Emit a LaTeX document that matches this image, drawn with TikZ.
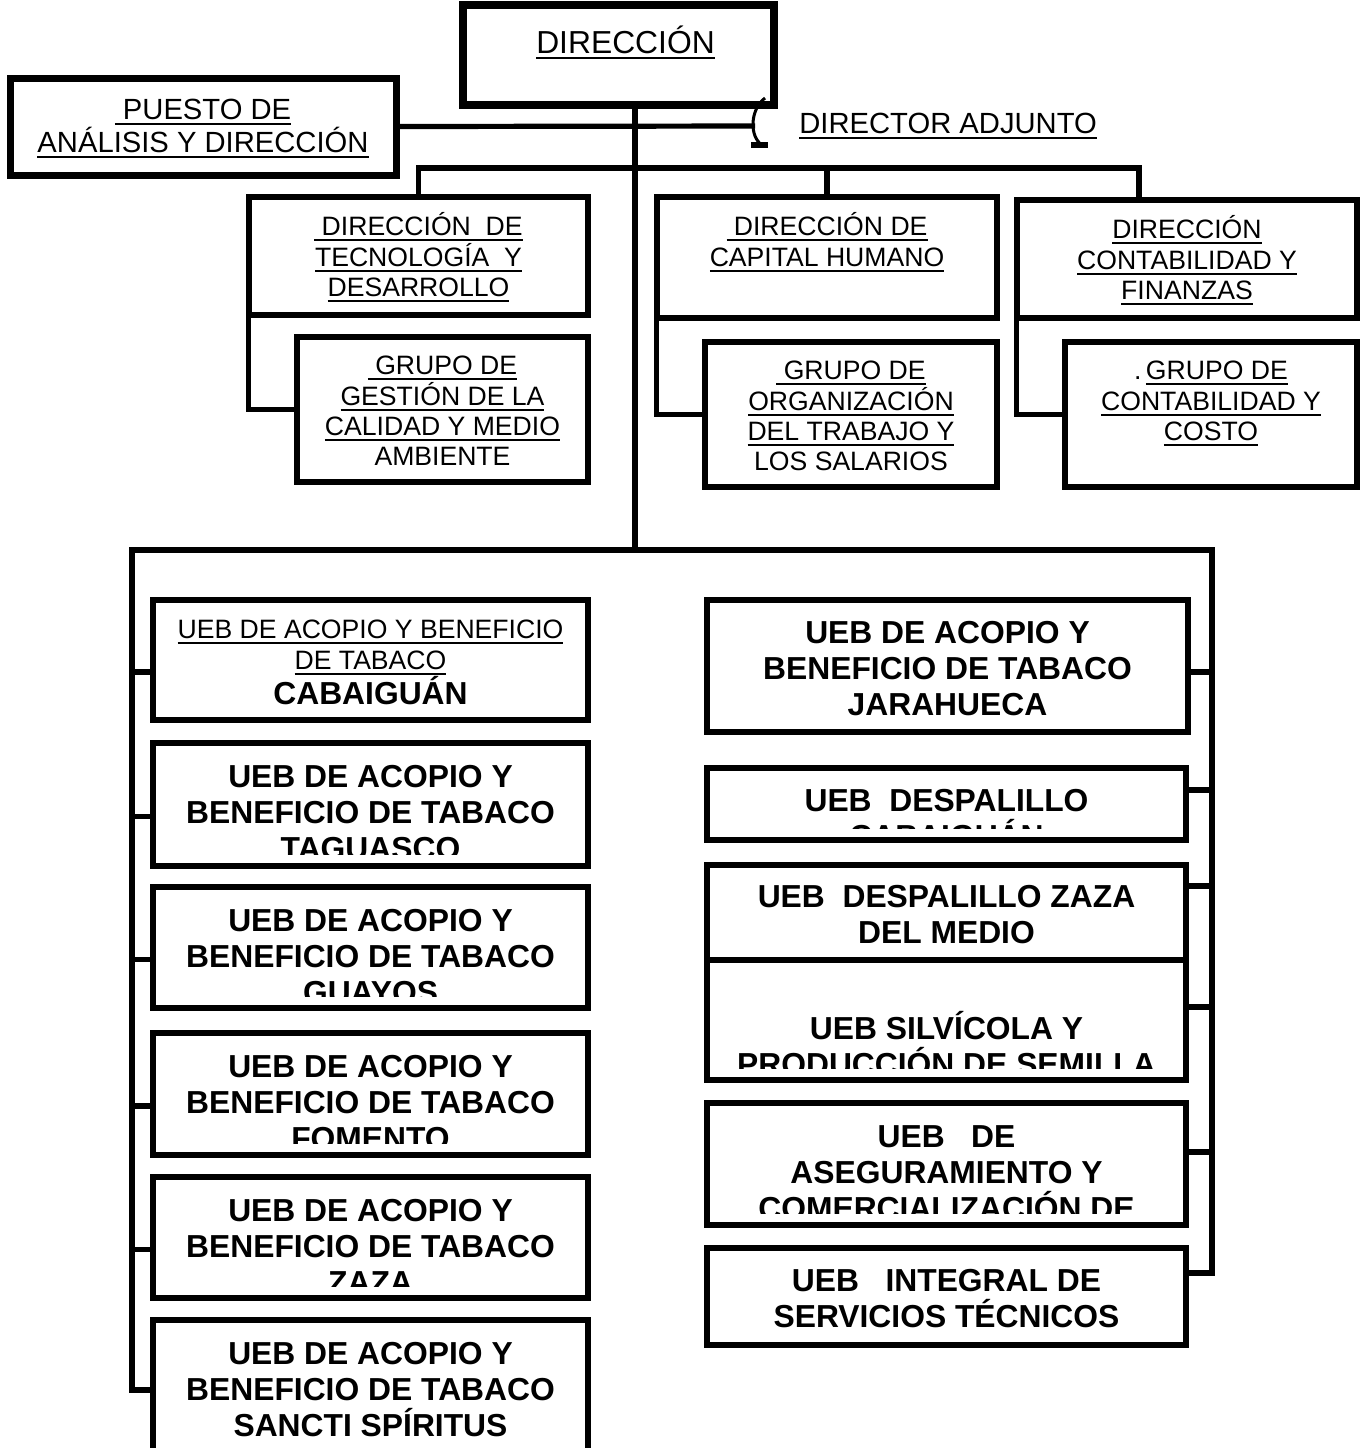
\documentclass[tikz,border=0pt]{standalone}
\usepackage{fontspec}
\setmainfont{Liberation Sans}
\usepackage{tikz}
\usetikzlibrary{positioning, fit}
\definecolor{ink}{HTML}{000000}
\newcommand{\headfont}{\fontsize{15.9}{18}\selectfont}
\newcommand{\stafffont}{\fontsize{14.6}{16.5}\selectfont}
\newcommand{\deptfont}{\fontsize{13.3}{15.2}\selectfont}
\newcommand{\unitfont}{\fontsize{15.9}{18}\selectfont\bfseries}
\newcommand{\topstrut}{\rule{0pt}{0.95em}}
\newcommand{\undl}[1]{\setbox0\hbox{#1}\rlap{\rule[-2.8pt]{\wd0}{0.9pt}}\box0}
% box with its text clipped inside: name, kind, left, top, right, bottom, text offset, text
\newcommand{\orgbox}[8]{%
    \begin{scope}
        \clip (#3,#4) rectangle (#5,#6-12);
        \node[#2label, anchor=north] (#1text) at ({(#3+#5)/2},#4+#7) {\topstrut #8};
    \end{scope}
    \node[#2box, fit={(#3,#4) (#5,#6)}] (#1) {};
}
\tikzset{
    headbox/.style={rectangle, draw=ink, line width=4pt, inner sep=0pt},
    headlabel/.style={font=\headfont, text=ink, align=center, inner sep=0pt},
    staffbox/.style={rectangle, draw=ink, line width=3.5pt, inner sep=0pt},
    stafflabel/.style={font=\stafffont, text=ink, align=center, inner sep=0pt},
    deptbox/.style={rectangle, draw=ink, line width=2.6pt, inner sep=0pt},
    deptlabel/.style={font=\deptfont, text=ink, align=center, inner sep=0pt},
    groupbox/.style={rectangle, draw=ink, line width=3pt, inner sep=0pt},
    grouplabel/.style={font=\deptfont, text=ink, align=center, inner sep=0pt},
    unitbox/.style={rectangle, draw=ink, line width=3pt, inner sep=0pt},
    unitlabel/.style={font=\unitfont, text=ink, align=center, inner sep=0pt},
    mixedbox/.style={unitbox},
    mixedlabel/.style={font=\deptfont, text=ink, align=center, inner sep=0pt},
    linkline/.style={draw=ink, line width=2.6pt},
    bracketline/.style={draw=ink, line width=1.5pt},
}
\begin{document}
\begin{tikzpicture}[x=0.5pt, y=-0.5pt]
    \useasboundingbox (0,0) rectangle (1363,1448);

    % Top: direction and staff
    \orgbox{direccion}{head}{463}{5}{774}{105}{18}{\hspace*{7pt}\undl{DIRECCIÓN}}
    \orgbox{puesto}{staff}{10}{78}{396}{175}{13}{\undl{\ PUESTO DE}\\ \undl{ANÁLISIS Y DIRECCIÓN}}
    \coordinate (adjmark) at (755,126);
    \node[stafflabel, anchor=west, right=22pt of adjmark] (adjunto) {\undl{DIRECTOR ADJUNTO}};

    % Row 1: directions
    \orgbox{tecnologia}{dept}{249}{197}{588}{315}{13}{\undl{\ DIRECCIÓN\ \ DE}\\ \undl{TECNOLOGÍA\ \ Y}\\ \undl{DESARROLLO}}
    \orgbox{capital}{dept}{657}{197}{997}{318}{13}{\undl{\ DIRECCIÓN DE}\\ \undl{CAPITAL HUMANO}}
    \orgbox{contabilidad}{dept}{1017}{200}{1357}{318}{13}{\undl{DIRECCIÓN}\\ \undl{CONTABILIDAD Y}\\ \undl{FINANZAS}}

    % Row 2: groups
    \orgbox{calidad}{group}{297}{337}{588}{482}{12}{\undl{\ GRUPO DE}\\ \undl{GESTIÓN DE LA}\\ \undl{CALIDAD Y MEDIO}\\ AMBIENTE}
    \orgbox{salarios}{group}{705}{342}{997}{487}{12}{\undl{\ GRUPO DE}\\ \undl{ORGANIZACIÓN}\\ \undl{DEL TRABAJO Y}\\ LOS SALARIOS}
    \orgbox{costo}{group}{1065}{342}{1357}{487}{12}{.\,\undl{GRUPO DE}\\ \undl{CONTABILIDAD Y}\\ \undl{COSTO}}

    % Left column: UEB de acopio
    \orgbox{cabaiguan}{mixed}{153}{600}{588}{720}{13}{\undl{UEB DE ACOPIO Y BENEFICIO}\\ \undl{DE TABACO}\\ {\unitfont CABAIGUÁN}}
    \orgbox{taguasco}{unit}{153}{743}{588}{866}{14}{UEB DE ACOPIO Y\\ BENEFICIO DE TABACO\\ TAGUASCO}
    \orgbox{guayos}{unit}{153}{887}{588}{1008}{14}{UEB DE ACOPIO Y\\ BENEFICIO DE TABACO\\ GUAYOS}
    \orgbox{fomento}{unit}{153}{1033}{588}{1155}{14}{UEB DE ACOPIO Y\\ BENEFICIO DE TABACO\\ FOMENTO}
    \orgbox{zaza}{unit}{153}{1177}{588}{1298}{14}{UEB DE ACOPIO Y\\ BENEFICIO DE TABACO\\ ZAZA}
    \orgbox{sancti}{unit}{153}{1320}{588}{1460}{14}{UEB DE ACOPIO Y\\ BENEFICIO DE TABACO\\ SANCTI SPÍRITUS}

    % Right column: other UEB
    \orgbox{jarahueca}{unit}{707}{600}{1188}{732}{13}{UEB DE ACOPIO Y\\ BENEFICIO DE TABACO\\ JARAHUECA}
    \orgbox{despcab}{unit}{707}{768}{1186}{840}{13}{UEB\ \ DESPALILLO\\ CABAIGUÁN}
    \orgbox{despzaza}{unit}{707}{865}{1186}{960}{12}{UEB\ \ DESPALILLO ZAZA\\ DEL MEDIO}
    \orgbox{silvicola}{unit}{707}{960}{1186}{1080}{13}{\\ UEB SILVÍCOLA Y\\ PRODUCCIÓN DE SEMILLA}
    \orgbox{aseguramiento}{unit}{707}{1103}{1186}{1225}{14}{UEB\ \ \ DE\\ ASEGURAMIENTO Y\\ COMERCIALIZACIÓN DE}
    \orgbox{integral}{unit}{707}{1248}{1186}{1345}{13}{UEB\ \ \ INTEGRAL DE\\ SERVICIOS TÉCNICOS}

    % Links from the top
    \coordinate (deptbar) at (1139,168);
    \coordinate (busL) at (132,550);
    \coordinate (busR) at (1212,550);
    \coordinate (trunk) at (635,550);
    \draw[linkline] (trunk |- direccion.south) -- (trunk);
    \draw[linkline] (puesto.east) -- (adjmark);
    \draw[bracketline] ([shift={(10,-28)}]adjmark) .. controls ([shift={(-5.5,-16)}]adjmark) and ([shift={(-5.5,11)}]adjmark) .. ([shift={(7,19)}]adjmark);
    \draw[linkline] ([shift={(-4,19)}]adjmark) -- ([shift={(13,19)}]adjmark);

    % Directions and their groups
    \draw[linkline] (tecnologia.north) |- (deptbar) -- (deptbar |- contabilidad.north);
    \draw[linkline] (capital.north) -- (capital.north |- deptbar);
    \draw[linkline] ([xshift=1pt]tecnologia.south west) |- (calidad.west);
    \draw[linkline] ([xshift=1pt]capital.south west) |- (salarios.west);
    \draw[linkline] ([xshift=1pt]contabilidad.south west) |- (costo.west);

    % Bus to the UEB
    \draw[linkline] (sancti.west) -| (busL) -- (busR) |- ([yshift=11.75pt]integral.east);
    \foreach \u in {cabaiguan, taguasco, guayos, fomento, zaza}
        \draw[linkline] ([yshift=-6pt]\u.west) -- ([yshift=-6pt]\u.west -| busL);
    \foreach \u/\dy in {jarahueca/-3pt, despcab/7pt, despzaza/13.25pt, silvicola/6.5pt, aseguramiento/6pt}
        \draw[linkline] ([yshift=\dy]\u.east) -- ([yshift=\dy]\u.east -| busR);

\end{tikzpicture}
\end{document}
